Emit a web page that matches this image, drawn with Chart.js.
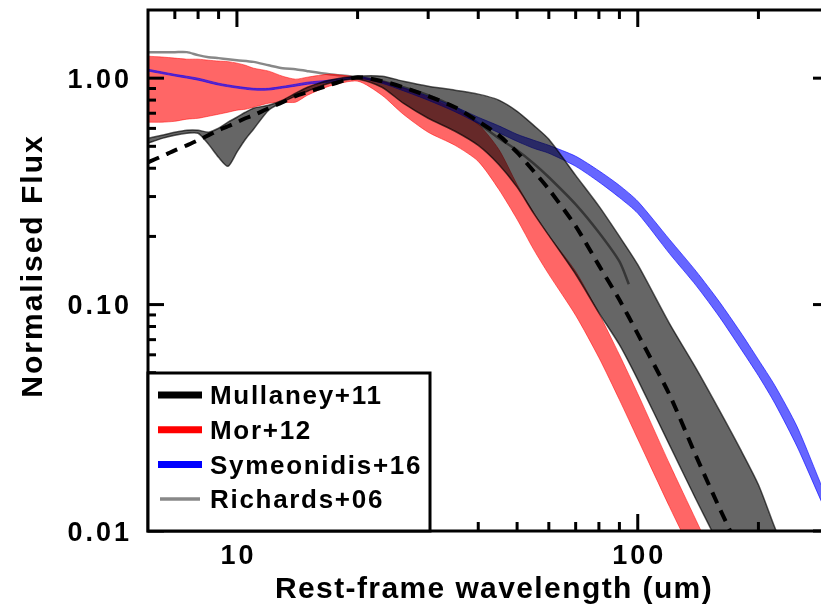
<!DOCTYPE html>
<html lang="en">
<head>
<meta charset="UTF-8">
<title>Normalised AGN SED templates</title>
<script src="https://cdn.jsdelivr.net/npm/chart.js@4.4.0/dist/chart.umd.min.js"></script>
<style>
    * { margin: 0; padding: 0; box-sizing: border-box; }
    html, body { width: 821px; height: 610px; overflow: hidden; background: #fff; }
    /* plot runs out to 300 um, a few pixels past the window edge */
    #wrap { width: 830px; height: 610px; }
</style>
</head>
<body>
<div id="wrap"><canvas id="sed" width="830" height="610"></canvas></div>
<script>
// Mullaney+11 (grey band)
const mullWave = [6, 6.5, 7, 7.5, 8, 8.5, 9, 9.5, 10, 10.5, 11, 12, 13, 14, 15, 17, 20, 23, 26, 30, 35, 40, 45, 50, 55, 60, 70, 80, 90, 100, 120, 140, 160, 180, 200, 220, 250];
const mullHigh = [0.542, 0.560, 0.577, 0.589, 0.589, 0.577, 0.601, 0.639, 0.672, 0.707, 0.737, 0.759, 0.799, 0.858, 0.912, 0.98, 1.02, 1.02, 0.97, 0.922, 0.885, 0.85, 0.80, 0.714, 0.619, 0.537, 0.372, 0.272, 0.20, 0.150, 0.0824, 0.052, 0.034, 0.0231, 0.016, 0.0103, 0.006];
const mullLow = [0.516, 0.542, 0.56, 0.571, 0.571, 0.51, 0.447, 0.408, 0.471, 0.537, 0.595, 0.722, 0.783, 0.833, 0.876, 0.95, 0.99, 0.912, 0.775, 0.665, 0.583, 0.505, 0.416, 0.33, 0.253, 0.202, 0.136, 0.092, 0.0665, 0.0466, 0.024, 0.0137, 0.0085, 0.005, 0.003, 0.002, 0.001];

// Mor+12 (red band)
const morWave = [6, 6.5, 7, 7.5, 8, 8.5, 9, 9.5, 10, 10.5, 11, 12, 13, 14, 15, 17, 20, 23, 26, 30, 35, 40, 45, 50, 55, 60, 70, 80, 90, 100, 120, 140, 160];
const morHigh = [1.25, 1.24, 1.226, 1.213, 1.213, 1.2, 1.19, 1.183, 1.165, 1.14, 1.107, 1.074, 1.02, 0.99, 1.01, 1.04, 1.01, 0.97, 0.903, 0.824, 0.729, 0.626, 0.485, 0.339, 0.255, 0.202, 0.14, 0.0913, 0.060, 0.0404, 0.0198, 0.0111, 0.0067];
const morLow = [0.639, 0.639, 0.645, 0.659, 0.665, 0.679, 0.693, 0.707, 0.722, 0.729, 0.744, 0.775, 0.783, 0.783, 0.841, 0.922, 0.97, 0.841, 0.693, 0.577, 0.505, 0.429, 0.323, 0.238, 0.175, 0.136, 0.0896, 0.0583, 0.038, 0.0255, 0.0128, 0.0073, 0.0045];

// Symeonidis+16 (blue band)
const symWave = [6, 7, 8, 9, 10, 11, 12, 13, 14, 15, 17, 20, 23, 26, 30, 35, 40, 45, 50, 55, 60, 70, 80, 90, 100, 120, 140, 160, 180, 200, 220, 250, 290, 300];
const symHigh = [1.095, 1.04, 1.0, 0.95, 0.92, 0.902, 0.902, 0.92, 0.94, 0.96, 0.98, 1.015, 0.97, 0.908, 0.833, 0.748, 0.672, 0.616, 0.565, 0.532, 0.505, 0.452, 0.390, 0.336, 0.286, 0.194, 0.140, 0.1026, 0.076, 0.0571, 0.0438, 0.0288, 0.0153, 0.0137];
const symLow = [1.075, 1.022, 0.98, 0.932, 0.904, 0.886, 0.886, 0.904, 0.922, 0.94, 0.96, 1.0, 0.95, 0.880, 0.799, 0.711, 0.632, 0.574, 0.526, 0.490, 0.466, 0.408, 0.348, 0.297, 0.253, 0.168, 0.121, 0.088, 0.0645, 0.0485, 0.0365, 0.0235, 0.0130, 0.0116];

// Richards+06 (grey line)
const richWave = [6, 7, 7.5, 8, 8.5, 9, 9.5, 10, 11, 12, 13, 14, 15, 17, 20, 23, 26, 30, 35, 40, 45, 50, 55, 60, 70, 80, 90, 95];
const richFlux = [1.303, 1.303, 1.303, 1.264, 1.238, 1.226, 1.213, 1.2, 1.18, 1.14, 1.107, 1.096, 1.074, 1.04, 1.01, 0.97, 0.912, 0.841, 0.744, 0.632, 0.543, 0.48, 0.42, 0.365, 0.277, 0.208, 0.155, 0.123];

// dashed curve
const meanWave = [6, 6.5, 7, 7.5, 8, 8.5, 9, 9.5, 10, 10.5, 11, 12, 13, 14, 15, 17, 20, 23, 26, 30, 35, 40, 45, 50, 55, 60, 70, 80, 90, 100, 120, 140, 160, 180];
const meanFlux = [0.425, 0.452, 0.48, 0.505, 0.532, 0.56, 0.589, 0.613, 0.639, 0.665, 0.686, 0.737, 0.783, 0.833, 0.867, 0.931, 1.01, 0.97, 0.912, 0.833, 0.744, 0.645, 0.56, 0.47, 0.388, 0.323, 0.222, 0.149, 0.105, 0.0742, 0.04, 0.0213, 0.0126, 0.0081];

// axis ticks
const xMajor = [10, 100];
const xLabels = ['10', '100'];
const xMinor = [7, 8, 9, 20, 30, 40, 50, 60, 70, 80, 90, 200];
const yMajor = [0.01, 0.1, 1];
const yLabels = ['0.01', '0.10', '1.00'];
const yMinor = [0.02, 0.03, 0.04, 0.05, 0.06, 0.07, 0.08, 0.09, 0.2, 0.3, 0.4, 0.5, 0.6, 0.7, 0.8, 0.9];

const legendNames = ['Mullaney+11', 'Mor+12', 'Symeonidis+16', 'Richards+06'];
const legendColors = ['#000000', '#ff0000', '#0000ff', '#888888'];

const FONT = '"Liberation Sans", Arial, Helvetica, sans-serif';

function pts(xs, ys) {
    return xs.map((x, i) => ({x: x, y: ys[i]}));
}

function band(xs, lo, hi, fillCol, edgeCol, edgeW, order) {
    const base = {pointRadius: 0, tension: 0.25, borderColor: edgeCol, borderWidth: edgeW, order: order};
    return [
        {...base, data: pts(xs, lo), fill: false},
        {...base, data: pts(xs, hi), fill: '-1', backgroundColor: fillCol}
    ];
}

// axes frame, ticks, labels, titles and legend box
const frame = {
    id: 'frame',
    afterDatasetsDraw(chart) {
        const {ctx, chartArea: a, scales} = chart;
        const sx = scales.x, sy = scales.y;
        ctx.save();
        ctx.strokeStyle = '#000';
        ctx.lineWidth = 3;
        const seg = (x1, y1, x2, y2) => {
            ctx.beginPath(); ctx.moveTo(x1, y1); ctx.lineTo(x2, y2); ctx.stroke();
        };
        yMinor.forEach(v => {
            const p = sy.getPixelForValue(v);
            seg(a.left, p, a.left + 8, p); seg(a.right, p, a.right - 8, p);
        });
        yMajor.forEach(v => {
            const p = sy.getPixelForValue(v);
            seg(a.left, p, a.left + 16, p); seg(a.right, p, a.right - 16, p);
        });
        xMinor.forEach(v => {
            const p = sx.getPixelForValue(v);
            seg(p, a.top, p, a.top + 9); seg(p, a.bottom, p, a.bottom - 9);
        });
        xMajor.forEach(v => {
            const p = sx.getPixelForValue(v);
            seg(p, a.top, p, a.top + 17); seg(p, a.bottom, p, a.bottom - 17);
        });
        ctx.strokeRect(a.left, a.top, a.right - a.left, a.bottom - a.top);

        // tick labels
        ctx.fillStyle = '#000';
        ctx.font = 'bold 27px ' + FONT;
        ctx.letterSpacing = '3px';
        ctx.textBaseline = 'alphabetic';
        ctx.textAlign = 'right';
        yMajor.forEach((v, i) => ctx.fillText(yLabels[i], 132, sy.getPixelForValue(v) + 9.5));
        ctx.textAlign = 'center';
        xMajor.forEach((v, i) => ctx.fillText(xLabels[i], sx.getPixelForValue(v) + 1.5, a.bottom + 33));

        // axis titles
        ctx.font = 'bold 30px ' + FONT;
        ctx.letterSpacing = '1.4px';
        ctx.fillText('Rest-frame wavelength (um)', 494, 598);
        ctx.letterSpacing = '2px';
        ctx.save();
        ctx.translate(42, 266);
        ctx.rotate(-Math.PI / 2);
        ctx.fillText('Normalised Flux', 0, 0);
        ctx.restore();

        // legend
        const lx = a.left, ly = 373, lw = 282, lh = a.bottom - ly;
        ctx.fillStyle = '#fff';
        ctx.fillRect(lx, ly, lw, lh);
        ctx.strokeRect(lx, ly, lw, lh);
        ctx.font = 'bold 26px ' + FONT;
        ctx.letterSpacing = '1.7px';
        ctx.textAlign = 'left';
        legendNames.forEach((name, i) => {
            const ry = 395 + i * 34.7;
            ctx.strokeStyle = legendColors[i];
            ctx.lineWidth = i < 3 ? 7 : 3.5;
            if (i < 3) seg(158, ry, 202, ry); else seg(160, ry, 200, ry);
            ctx.fillStyle = '#000';
            ctx.fillText(name, 210, ry + 9.3);
        });
        ctx.letterSpacing = '0px';
        ctx.restore();
    }
};

new Chart(document.getElementById('sed'), {
    type: 'line',
    data: {
        datasets: [
            {data: pts(meanWave, meanFlux), borderColor: '#000', borderWidth: 4, borderDash: [12, 8],
             pointRadius: 0, tension: 0.25, fill: false, order: 0},
            ...band(mullWave, mullLow, mullHigh, 'rgba(0,0,0,0.6)', 'rgba(0,0,0,0.65)', 1.5, 1),
            ...band(symWave, symLow, symHigh, 'rgba(0,0,255,0.6)', 'rgba(0,0,255,0.6)', 1, 2),
            ...band(morWave, morLow, morHigh, 'rgba(255,0,0,0.6)', 'rgba(255,0,0,0.5)', 1, 3),
            {data: pts(richWave, richFlux), borderColor: '#888888', borderWidth: 2.5,
             pointRadius: 0, tension: 0.25, fill: false, order: 4}
        ]
    },
    options: {
        responsive: false,
        animation: false,
        devicePixelRatio: 1,
        layout: {padding: {left: 148, top: 10, right: 1, bottom: 79}},
        scales: {
            x: {type: 'logarithmic', min: 6, max: 300, display: false},
            y: {type: 'logarithmic', min: 0.01, max: 2, display: false}
        },
        plugins: {legend: {display: false}, tooltip: {enabled: false}}
    },
    plugins: [frame]
});
</script>
</body>
</html>
